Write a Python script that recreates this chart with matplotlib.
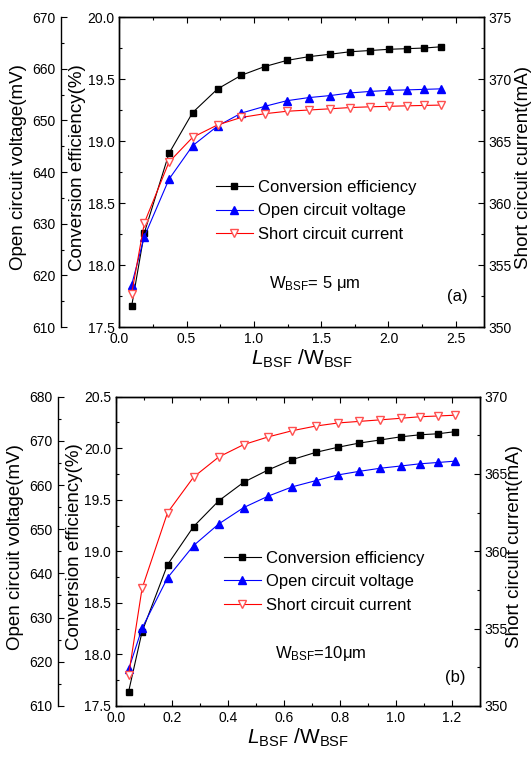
import matplotlib.pyplot as plt
from matplotlib.ticker import MultipleLocator

plt.rcParams['font.family'] = 'Liberation Sans'
plt.rcParams['mathtext.fontset'] = 'custom'
plt.rcParams['mathtext.rm'] = 'Liberation Sans'
plt.rcParams['mathtext.it'] = 'Liberation Sans:italic'
plt.rcParams['xtick.direction'] = 'in'
plt.rcParams['ytick.direction'] = 'in'

# panel (a): W_BSF = 5 um
xa = [0.092, 0.186, 0.369, 0.545, 0.730, 0.906, 1.079, 1.245, 1.406, 1.567,
      1.715, 1.864, 2.007, 2.141, 2.267, 2.389]
eff_a = [17.67, 18.26, 18.90, 19.23, 19.42, 19.53, 19.60, 19.65, 19.68, 19.70,
         19.72, 19.73, 19.74, 19.745, 19.75, 19.76]
voc_a = [618.2, 627.5, 638.6, 645.1, 648.9, 651.4, 652.7, 653.8, 654.4, 654.8,
         655.3, 655.6, 655.8, 655.9, 656.0, 656.1]
isc_a = [352.7, 358.4, 363.3, 365.3, 366.3, 366.9, 367.2, 367.4, 367.5, 367.6,
         367.7, 367.76, 367.8, 367.84, 367.87, 367.9]

# panel (b): W_BSF = 10 um
xb = [0.045, 0.093, 0.184, 0.277, 0.367, 0.456, 0.544, 0.630, 0.714, 0.794,
      0.869, 0.944, 1.016, 1.085, 1.150, 1.210]
eff_b = [17.64, 18.22, 18.87, 19.24, 19.49, 19.67, 19.79, 19.89, 19.96, 20.01,
         20.05, 20.08, 20.11, 20.13, 20.14, 20.16]
voc_b = [618.3, 627.6, 639.0, 646.3, 651.2, 654.9, 657.5, 659.6, 661.0, 662.3,
         663.1, 663.8, 664.3, 664.8, 665.1, 665.4]
isc_b = [352.0, 357.6, 362.5, 364.8, 366.1, 366.9, 367.4, 367.8, 368.1, 368.3,
         368.4, 368.5, 368.6, 368.7, 368.75, 368.8]

names = ['Conversion efficiency', 'Open circuit voltage', 'Short circuit current']

fig = plt.figure(figsize=(5.31, 7.6), dpi=100)


def panel(rect, x, eff, voc, isc, xmax, xstep, efflim, voclim, isclim,
          note, tag, outer, leg_xy, note_xy, tag_xy, lab_x):
    ax = fig.add_axes(rect)
    axv = ax.twinx()
    axi = ax.twinx()

    # outer left axis for the voltage
    axv.spines['left'].set_position(('axes', outer))
    axv.spines['left'].set_visible(True)
    axv.spines['right'].set_visible(False)
    axv.spines['top'].set_visible(False)
    axv.spines['bottom'].set_visible(False)
    axv.yaxis.set_ticks_position('left')
    axv.yaxis.set_label_position('left')

    l1, = ax.plot(x, eff, '-s', color='black', lw=0.8, ms=5)
    l2, = axv.plot(x, voc, '-^', color='blue', lw=0.8, ms=5.5)
    l3, = axi.plot(x, isc, '-v', color='red', lw=0.8, ms=5.5,
                   mfc='white', mec='#ff5050')

    ax.set_xlim(0, xmax)
    ax.set_ylim(*efflim)
    axv.set_ylim(*voclim)
    axi.set_ylim(*isclim)

    ax.xaxis.set_major_locator(MultipleLocator(xstep))
    ax.xaxis.set_minor_locator(MultipleLocator(xstep / 2))
    ax.yaxis.set_major_locator(MultipleLocator(0.5))
    ax.yaxis.set_minor_locator(MultipleLocator(0.25))
    axv.yaxis.set_major_locator(MultipleLocator(10))
    axv.yaxis.set_minor_locator(MultipleLocator(5))
    axi.yaxis.set_major_locator(MultipleLocator(5))
    axi.yaxis.set_minor_locator(MultipleLocator(2.5))
    ax.xaxis.set_major_formatter(lambda v, p: f'{v:.1f}')
    ax.yaxis.set_major_formatter(lambda v, p: f'{v:.1f}')

    for a in (ax, axv, axi):
        a.tick_params(which='major', length=4.5, width=0.8, labelsize=10)
        a.tick_params(which='minor', length=2.5, width=0.8)
        for s in a.spines.values():
            s.set_linewidth(1.0)
    ax.tick_params(axis='x', which='both', top=True)
    axv.tick_params(axis='y', which='major', pad=4)

    ax.set_xlabel(r'$\mathit{L}_{\mathrm{BSF}}$ /W$_{\mathrm{BSF}}$',
                  fontsize=15, labelpad=1)
    ax.set_ylabel('Conversion efficiency(%)', fontsize=13.5, va='center')
    axv.set_ylabel('Open circuit voltage(mV)', fontsize=13.5, va='center')
    axi.set_ylabel('Short circuit current(mA)', fontsize=13.5, va='center')
    axv.yaxis.set_label_coords(lab_x[0], 0.515)
    ax.yaxis.set_label_coords(lab_x[1], 0.515)
    axi.yaxis.set_label_coords(lab_x[2], 0.515)

    axi.legend([l1, l2, l3], names, loc='upper left', bbox_to_anchor=leg_xy,
               frameon=False, fontsize=12, numpoints=1, handlelength=2.2,
               handletextpad=0.3, borderpad=0, borderaxespad=0,
               labelspacing=0.5)
    axi.text(note_xy[0], note_xy[1], note, transform=axi.transAxes,
             fontsize=12, ha='left', va='center')
    axi.text(tag_xy[0], tag_xy[1], tag, transform=axi.transAxes,
             fontsize=12, ha='center', va='center')


panel([0.2247, 0.5697, 0.6868, 0.4079], xa, eff_a, voc_a, isc_a, 2.71, 0.5,
      (17.5, 20.0), (610, 670), (350, 375),
      r'W$_{\mathrm{BSF}}$= 5 μm', '(a)', -0.16,
      (0.265, 0.474), (0.411, 0.142), (0.927, 0.097),
      (-0.276, -0.115, 1.107))

panel([0.2185, 0.0711, 0.6855, 0.4070], xb, eff_b, voc_b, isc_b, 1.3, 0.2,
      (17.5, 20.5), (610, 680), (350, 370),
      r'W$_{\mathrm{BSF}}$=10μm', '(b)', -0.1585,
      (0.297, 0.501), (0.437, 0.171), (0.931, 0.0905),
      (-0.276, -0.113, 1.096))

fig.savefig('out.png', dpi=100)
